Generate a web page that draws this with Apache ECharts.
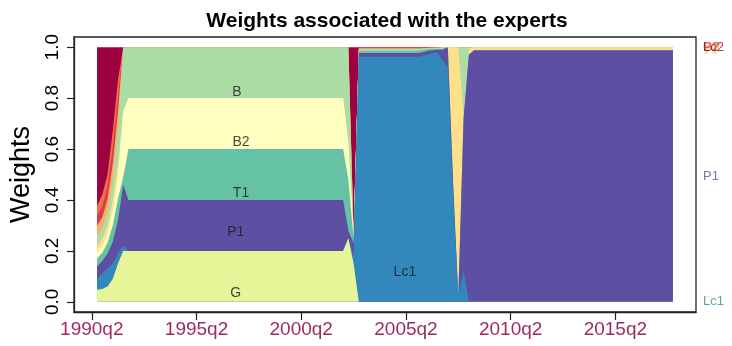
<!DOCTYPE html>
<html>
<head>
<meta charset="utf-8">
<script src="https://cdn.jsdelivr.net/npm/echarts@6/dist/echarts.min.js"></script>
<style>
  html, body { margin: 0; padding: 0; background: #fff; }
  #chart { width: 732px; height: 346px; }
</style>
</head>
<body>
<div id="chart"></div>
<script>
// Quarterly periods of the mixture weights: 1990q3 .. 2018q1 (111 quarters)
const quarters = [];
for (let y = 1990, q = 3; quarters.length < 111; ) {
  quarters.push(y + 'q' + q);
  q += 1; if (q > 4) { q = 1; y += 1; }
}

// Tick labels of the time axis
const tickLabels = ['1990q2', '1995q2', '2000q2', '2005q2', '2010q2', '2015q2'];

// Experts, bottom to top of the stack
const experts = ['G', 'Lc1', 'P1', 'T1', 'B2', 'T2', 'B', 'B1', 'P2', 'G2', 'Lc2'];
const expertColors = ['#E6F598', '#3288BD', '#5E4FA2', '#66C2A5', '#FFFFBF', '#FEE08B',
                      '#ABDDA4', '#FDAE61', '#D53E4F', '#F46D43', '#9E0142'];

// Weights per quarter (rows: 1990q3-1991q4 | 1992q1-2002q2 | 2002q3-2003q2 | ... )
const wG = [
  .047, .05, .06, .09, .15, .2,
  .2, .2, .2, .2, .2, .2, .2, .2, .2, .2, .2, .2, .2, .2,
  .2, .2, .2, .2, .2, .2, .2, .2, .2, .2, .2, .2, .2, .2,
  .2, .2, .2, .2, .2, .2, .2, .2, .2, .2, .2, .2, .2, .2,
  .25, .15,
  0, 0, 0, 0, 0, 0, 0, 0, 0, 0, 0, 0,
  0, 0, 0, 0,
  0, 0, 0, 0, 0,
  0, 0, 0, 0, 0, 0, 0, 0, 0, 0,
  0, 0, 0, 0, 0, 0, 0, 0, 0, 0,
  0, 0, 0, 0, 0, 0, 0, 0, 0, 0,
  0, 0, 0, 0, 0, 0, 0, 0, 0, 0
];
const wLc1 = [
  .045, .06, .07, .06, .04, .02,
  0, 0, 0, 0, 0, 0, 0, 0, 0, 0, 0, 0, 0, 0,
  0, 0, 0, 0, 0, 0, 0, 0, 0, 0, 0, 0, 0, 0,
  0, 0, 0, 0, 0, 0, 0, 0, 0, 0, 0, 0, 0, 0,
  0, .03,
  .962, .962, .962, .962, .962, .962, .962, .962, .962, .962, .962, .962,
  .964, .97, .975, .98,
  .95, .92, .42, .02, .12,
  0, 0, 0, 0, 0, 0, 0, 0, 0, 0,
  0, 0, 0, 0, 0, 0, 0, 0, 0, 0,
  0, 0, 0, 0, 0, 0, 0, 0, 0, 0,
  0, 0, 0, 0, 0, 0, 0, 0, 0, 0
];
const wP1 = [
  .047, .05, .06, .085, .13, .24,
  .2, .2, .2, .2, .2, .2, .2, .2, .2, .2, .2, .2, .2, .2,
  .2, .2, .2, .2, .2, .2, .2, .2, .2, .2, .2, .2, .2, .2,
  .2, .2, .2, .2, .2, .2, .2, .2, .2, .2, .2, .2, .2, .2,
  .03, .05,
  .015, .015, .015, .015, .015, .015, .015, .015, .015, .015, .015, .015,
  .015, .015, .013, .01,
  .04, .08, .05, 0, .6,
  .97, .988, .988, .988, .988, .988, .988, .988, .988, .988,
  .988, .988, .988, .988, .988, .988, .988, .988, .988, .988,
  .988, .988, .988, .988, .988, .988, .988, .988, .988, .988,
  .988, .988, .988, .988, .988, .988, .988, .988, .988, .988
];
const wT1 = [
  .031, .033, .042, .065, .085, .03,
  .2, .2, .2, .2, .2, .2, .2, .2, .2, .2, .2, .2, .2, .2,
  .2, .2, .2, .2, .2, .2, .2, .2, .2, .2, .2, .2, .2, .2,
  .2, .2, .2, .2, .2, .2, .2, .2, .2, .2, .2, .2, .2, .2,
  .2, .02,
  .01, .01, .01, .01, .01, .01, .01, .01, .01, .01, .01, .01,
  .01, .008, .007, .005,
  .005, 0, 0, 0, 0,
  0, 0, 0, 0, 0, 0, 0, 0, 0, 0,
  0, 0, 0, 0, 0, 0, 0, 0, 0, 0,
  0, 0, 0, 0, 0, 0, 0, 0, 0, 0,
  0, 0, 0, 0, 0, 0, 0, 0, 0, 0
];
const wB2 = [
  .024, .027, .035, .055, .09, .256,
  .2, .2, .2, .2, .2, .2, .2, .2, .2, .2, .2, .2, .2, .2,
  .2, .2, .2, .2, .2, .2, .2, .2, .2, .2, .2, .2, .2, .2,
  .2, .2, .2, .2, .2, .2, .2, .2, .2, .2, .2, .2, .2, .2,
  .15, .01,
  0, 0, 0, 0, 0, 0, 0, 0, 0, 0, 0, 0,
  0, 0, 0, 0,
  0, 0, 0, 0, 0,
  0, 0, 0, 0, 0, 0, 0, 0, 0, 0,
  0, 0, 0, 0, 0, 0, 0, 0, 0, 0,
  0, 0, 0, 0, 0, 0, 0, 0, 0, 0,
  0, 0, 0, 0, 0, 0, 0, 0, 0, 0
];
const wT2 = [
  .027, .028, .033, .045, .045, 0,
  0, 0, 0, 0, 0, 0, 0, 0, 0, 0, 0, 0, 0, 0,
  0, 0, 0, 0, 0, 0, 0, 0, 0, 0, 0, 0, 0, 0,
  0, 0, 0, 0, 0, 0, 0, 0, 0, 0, 0, 0, 0, 0,
  0, 0,
  0, 0, 0, 0, 0, 0, 0, 0, 0, 0, 0, 0,
  0, 0, 0, 0,
  0, 0, .53, .98, .01,
  .025, .012, .012, .012, .012, .012, .012, .012, .012, .012,
  .012, .012, .012, .012, .012, .012, .012, .012, .012, .012,
  .012, .012, .012, .012, .012, .012, .012, .012, .012, .012,
  .012, .012, .012, .012, .012, .012, .012, .012, .012, .012
];
const wB = [
  .039, .043, .055, .08, .15, .254,
  .2, .2, .2, .2, .2, .2, .2, .2, .2, .2, .2, .2, .2, .2,
  .2, .2, .2, .2, .2, .2, .2, .2, .2, .2, .2, .2, .2, .2,
  .2, .2, .2, .2, .2, .2, .2, .2, .2, .2, .2, .2, .2, .2,
  .37, .01,
  .008, .008, .008, .008, .008, .008, .008, .008, .008, .008, .008, .008,
  .006, .004, .003, .003,
  .005, 0, 0, 0, .27,
  .005, 0, 0, 0, 0, 0, 0, 0, 0, 0,
  0, 0, 0, 0, 0, 0, 0, 0, 0, 0,
  0, 0, 0, 0, 0, 0, 0, 0, 0, 0,
  0, 0, 0, 0, 0, 0, 0, 0, 0, 0
];
const wB1 = [
  .039, .04, .048, .062, .06, 0,
  0, 0, 0, 0, 0, 0, 0, 0, 0, 0, 0, 0, 0, 0,
  0, 0, 0, 0, 0, 0, 0, 0, 0, 0, 0, 0, 0, 0,
  0, 0, 0, 0, 0, 0, 0, 0, 0, 0, 0, 0, 0, 0,
  0, 0,
  0, 0, 0, 0, 0, 0, 0, 0, 0, 0, 0, 0,
  0, 0, 0, 0,
  0, 0, 0, 0, 0,
  0, 0, 0, 0, 0, 0, 0, 0, 0, 0,
  0, 0, 0, 0, 0, 0, 0, 0, 0, 0,
  0, 0, 0, 0, 0, 0, 0, 0, 0, 0,
  0, 0, 0, 0, 0, 0, 0, 0, 0, 0
];
const wP2 = [
  .039, .042, .048, .062, .055, 0,
  0, 0, 0, 0, 0, 0, 0, 0, 0, 0, 0, 0, 0, 0,
  0, 0, 0, 0, 0, 0, 0, 0, 0, 0, 0, 0, 0, 0,
  0, 0, 0, 0, 0, 0, 0, 0, 0, 0, 0, 0, 0, 0,
  0, 0,
  .005, .005, .005, .005, .005, .005, .005, .005, .005, .005, .005, .005,
  .005, .003, .002, .002,
  0, 0, 0, 0, 0,
  0, 0, 0, 0, 0, 0, 0, 0, 0, 0,
  0, 0, 0, 0, 0, 0, 0, 0, 0, 0,
  0, 0, 0, 0, 0, 0, 0, 0, 0, 0,
  0, 0, 0, 0, 0, 0, 0, 0, 0, 0
];
const wG2 = [
  .039, .047, .049, .066, .065, 0,
  0, 0, 0, 0, 0, 0, 0, 0, 0, 0, 0, 0, 0, 0,
  0, 0, 0, 0, 0, 0, 0, 0, 0, 0, 0, 0, 0, 0,
  0, 0, 0, 0, 0, 0, 0, 0, 0, 0, 0, 0, 0, 0,
  0, 0,
  0, 0, 0, 0, 0, 0, 0, 0, 0, 0, 0, 0,
  0, 0, 0, 0,
  0, 0, 0, 0, 0,
  0, 0, 0, 0, 0, 0, 0, 0, 0, 0,
  0, 0, 0, 0, 0, 0, 0, 0, 0, 0,
  0, 0, 0, 0, 0, 0, 0, 0, 0, 0,
  0, 0, 0, 0, 0, 0, 0, 0, 0, 0
];
const wLc2 = [
  .623, .58, .5, .33, .13, 0,
  0, 0, 0, 0, 0, 0, 0, 0, 0, 0, 0, 0, 0, 0,
  0, 0, 0, 0, 0, 0, 0, 0, 0, 0, 0, 0, 0, 0,
  0, 0, 0, 0, 0, 0, 0, 0, 0, 0, 0, 0, 0, 0,
  0, .73,
  0, 0, 0, 0, 0, 0, 0, 0, 0, 0, 0, 0,
  0, 0, 0, 0,
  0, 0, 0, 0, 0,
  0, 0, 0, 0, 0, 0, 0, 0, 0, 0,
  0, 0, 0, 0, 0, 0, 0, 0, 0, 0,
  0, 0, 0, 0, 0, 0, 0, 0, 0, 0,
  0, 0, 0, 0, 0, 0, 0, 0, 0, 0
];
const weights = [wG, wLc1, wP1, wT1, wB2, wT2, wB, wB1, wP2, wG2, wLc2];

// Names written inside the areas: expert, quarter position, weight level
const areaLabelNames = ['B', 'B2', 'T1', 'P1', 'G', 'Lc1'];
const areaLabelQuarter = [26.7, 27.5, 27.5, 26.5, 26.5, 58.8];
const areaLabelWeight = [0.824, 0.627, 0.427, 0.275, 0.035, 0.118];

// position of a "YYYYqN" label on the quarter index scale
function quarterPos(label) {
  const y = parseInt(label.slice(0, 4), 10);
  const q = parseInt(label.slice(5), 10);
  return (y - 1990) * 4 + (q - 3);
}
const tickPos = tickLabels.map(quarterPos);
const tickText = {};
tickPos.forEach((p, k) => { tickText[p] = tickLabels[k]; });

const last = quarters.length - 1;
const pad = last * 0.04;

// cumulative upper edge of every expert's band
const upper = [];
weights.forEach((w, k) => {
  upper.push(w.map((v, i) => (k ? upper[k - 1][i] : 0) + v));
});

// right-hand names sit at the middle of each expert's final share
const endLabels = experts.map((name, k) => {
  const top = upper[k][last];
  const mid = top - weights[k][last] / 2;
  return { value: [last, mid], name: name, label: { color: expertColors[k] } };
});

const FONT = '"Liberation Sans", Arial, Helvetica, sans-serif';

// bands are painted from the top one down, each filled to zero,
// so every lower band covers the part of the previous fill below it
const areaSeries = [];
for (let k = experts.length - 1; k >= 0; k--) {
  areaSeries.push({
    type: 'line',
    name: experts[k],
    data: upper[k].map((v, i) => [i, v]),
    symbol: 'none',
    showSymbol: false,
    lineStyle: { width: 0 },
    itemStyle: { color: expertColors[k] },
    areaStyle: { color: expertColors[k], opacity: 1, origin: 0 },
    silent: true,
    z: 2
  });
}

const chart = echarts.init(document.getElementById('chart'), null, { renderer: 'canvas' });
chart.setOption({
  animation: false,
  backgroundColor: '#ffffff',
  title: {
    text: 'Weights associated with the experts',
    left: 382, top: 6, textAlign: 'center',
    textStyle: { fontFamily: FONT, fontSize: 21, fontWeight: 'bold', color: '#000' }
  },
  grid: {
    left: 74, right: 36, top: 37, bottom: 34,
    show: true, borderColor: '#222', borderWidth: 1.3, backgroundColor: 'transparent'
  },
  xAxis: {
    type: 'value',
    min: -pad, max: last + pad,
    splitLine: { show: false },
    axisLine: { show: true, onZero: false, lineStyle: { color: '#222', width: 1.3 } },
    axisTick: { show: true, customValues: tickPos, length: 8, lineStyle: { color: '#222', width: 1.2 } },
    axisLabel: {
      customValues: tickPos,
      formatter: v => tickText[Math.round(v)] || '',
      fontFamily: FONT, fontSize: 19, color: '#9E2A5B', margin: 8
    }
  },
  yAxis: {
    type: 'value',
    min: -0.04, max: 1.04,
    name: 'Weights',
    nameLocation: 'middle',
    nameGap: 38,
    nameTextStyle: { fontFamily: FONT, fontSize: 27, color: '#000' },
    splitLine: { show: false },
    axisLine: { show: true, onZero: false, lineStyle: { color: '#222', width: 1.3 } },
    axisTick: { show: true, customValues: [0, 0.2, 0.4, 0.6, 0.8, 1], length: 7, lineStyle: { color: '#222', width: 1.2 } },
    axisLabel: {
      customValues: [0, 0.2, 0.4, 0.6, 0.8, 1],
      formatter: v => v.toFixed(1),
      rotate: 90,
      fontFamily: FONT, fontSize: 19, color: '#000', margin: 12
    }
  },
  series: areaSeries.concat([
    {
      type: 'scatter',
      data: areaLabelNames.map((n, k) => ({ value: [areaLabelQuarter[k], areaLabelWeight[k]], name: n })),
      symbolSize: 0,
      silent: true,
      z: 5,
      label: {
        show: true, position: 'inside', formatter: p => p.name,
        fontFamily: FONT, fontSize: 14, color: '#1a1a1a'
      }
    },
    {
      type: 'scatter',
      data: endLabels,
      symbolSize: 0,
      silent: true,
      clip: false,
      z: 5,
      label: {
        show: true, position: 'right', distance: 30, align: 'left',
        formatter: p => p.name,
        fontFamily: FONT, fontSize: 13
      }
    }
  ])
});
</script>
</body>
</html>
